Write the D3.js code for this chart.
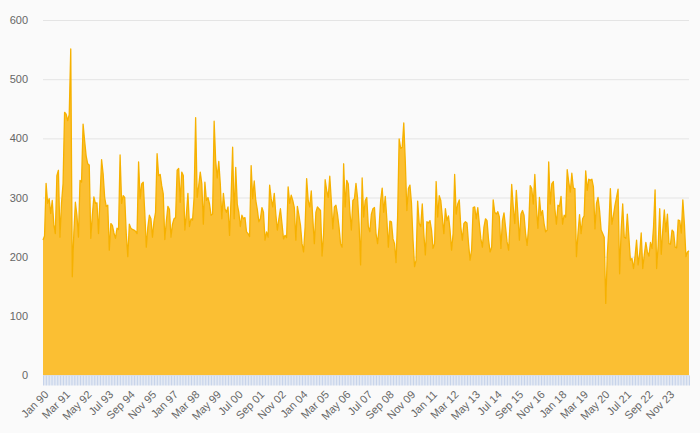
<!DOCTYPE html>
<html>
<head>
<meta charset="utf-8">
<script src="https://cdn.jsdelivr.net/npm/d3@7"></script>
<style>
  html, body { margin: 0; padding: 0; background: #fafafa; }
  svg { display: block; font-family: Lato, "Open Sans", sans-serif; }
</style>
</head>
<body>
<svg id="chart" width="700" height="433"></svg>
<script>
// ---- data (monthly, Jan 1990 onward) ----
const startYear = 1990;
const monthNames = ["Jan","Feb","Mar","Apr","May","Jun","Jul","Aug","Sep","Oct","Nov","Dec"];
const values = [
228,235,324,290,298,273,295,255,239,337,346,233,
290,323,444,441,430,440,551,166,240,292,270,233,
329,326,424,396,370,357,355,231,270,301,290,291,
239,300,364,340,300,285,287,211,256,253,240,231,
248,246,372,290,303,300,239,200,255,248,246,245,
243,239,360,298,323,326,275,216,250,270,264,233,
260,275,374,337,339,320,306,229,260,285,280,233,
255,264,266,346,349,292,343,337,245,272,307,251,
264,262,300,435,300,320,343,323,255,326,295,300,
289,270,272,429,362,333,361,323,264,307,281,275,
284,236,300,385,264,351,289,275,251,270,264,266,
242,239,234,354,298,328,295,280,259,264,283,275,
228,242,233,321,298,284,307,272,245,264,281,256,
230,236,232,318,290,304,295,283,228,285,270,253,
222,208,250,332,295,284,311,264,222,275,284,281,
278,201,239,330,312,300,336,295,247,284,287,272,
250,222,216,357,284,329,323,278,245,295,298,324,
300,256,186,333,267,295,300,251,242,272,281,283,
239,222,250,295,316,275,302,264,216,260,259,230,
222,190,267,399,383,385,426,360,278,315,321,290,
228,183,194,294,256,251,289,239,203,259,257,261,
245,214,222,327,267,303,295,267,239,281,261,269,
245,211,239,339,272,289,296,250,228,256,259,257,
222,194,211,283,284,264,283,256,230,216,250,264,
261,228,208,216,296,275,272,276,267,214,261,274,
250,225,211,259,322,284,256,312,272,228,272,278,
270,239,219,250,320,315,289,339,284,248,300,270,
278,256,242,245,360,289,323,327,281,255,287,285,
302,255,270,267,347,326,309,341,316,315,200,239,
271,239,264,269,345,312,331,329,331,318,247,290,
300,278,245,239,233,121,203,248,315,255,270,287,
300,314,171,245,289,233,231,272,233,194,197,180,
200,228,186,205,240,180,203,224,208,201,224,214,
250,313,180,219,281,204,245,279,242,272,222,221,
245,242,216,215,262,261,240,296,256,200,208,210
];
const labelStep = 14;
const tickLabels = ["Jan 90","Mar 91","May 92","Jul 93","Sep 94","Nov 95","Jan 97","Mar 98",
  "May 99","Jul 00","Sep 01","Nov 02","Jan 04","Mar 05","May 06","Jul 07","Sep 08","Nov 09",
  "Jan 11","Mar 12","May 13","Jul 14","Sep 15","Nov 16","Jan 18","Mar 19","May 20","Jul 21",
  "Sep 22","Nov 23"];
const yTicks = [0,100,200,300,400,500,600];

// ---- chart ----
const svg = d3.select("#chart");
const margin = {left: 43, right: 11, top: 20, bottom: 58};
const W = 700, H = 433;

const x = d3.scaleLinear().domain([0, values.length - 1]).range([margin.left, W - margin.right]);
const y = d3.scaleLinear().domain([0, 600]).range([H - margin.bottom, margin.top]);

svg.append("rect").attr("width", W).attr("height", H).attr("fill", "#fafafa");

// grid
const yAxis = d3.axisLeft(y).tickValues(yTicks).tickSize(-(W - margin.right - margin.left)).tickPadding(15);
const gy = svg.append("g").attr("transform", `translate(${margin.left},0)`).call(yAxis);
gy.select(".domain").remove();
gy.selectAll(".tick line").attr("stroke", "#e4e4e4").attr("stroke-width", 1);
gy.selectAll(".tick text").attr("fill", "#666").attr("font-size", 11);

// area
const area = d3.area()
  .x((d, i) => x(i))
  .y0(y(0))
  .y1(d => y(d));
const line = d3.line()
  .x((d, i) => x(i))
  .y(d => y(d));

svg.append("path").datum(values).attr("d", area).attr("fill", "#fbbf33");
svg.append("path").datum(values).attr("d", line)
  .attr("fill", "none").attr("stroke", "#f6b100").attr("stroke-width", 1.3).attr("stroke-linejoin", "round");

// x axis: monthly ticks + labels every 14 months
const xAxis = d3.axisBottom(x)
  .tickValues(d3.range(values.length))
  .tickSize(10)
  .tickFormat(i => (i % labelStep === 0 ? tickLabels[i / labelStep] || "" : ""));
const gx = svg.append("g").attr("transform", `translate(0,${y(0) + 0.5})`).call(xAxis);
gx.select(".domain").remove();
gx.selectAll(".tick line").attr("stroke", "#c6d3ea").attr("stroke-width", 1);
gx.selectAll(".tick text")
  .attr("fill", "#666")
  .attr("font-size", 11)
  .attr("text-anchor", "end")
  .attr("dy", "0.35em")
  .attr("y", 0)
  .attr("transform", "translate(3,17) rotate(-45)");
</script>
</body>
</html>
